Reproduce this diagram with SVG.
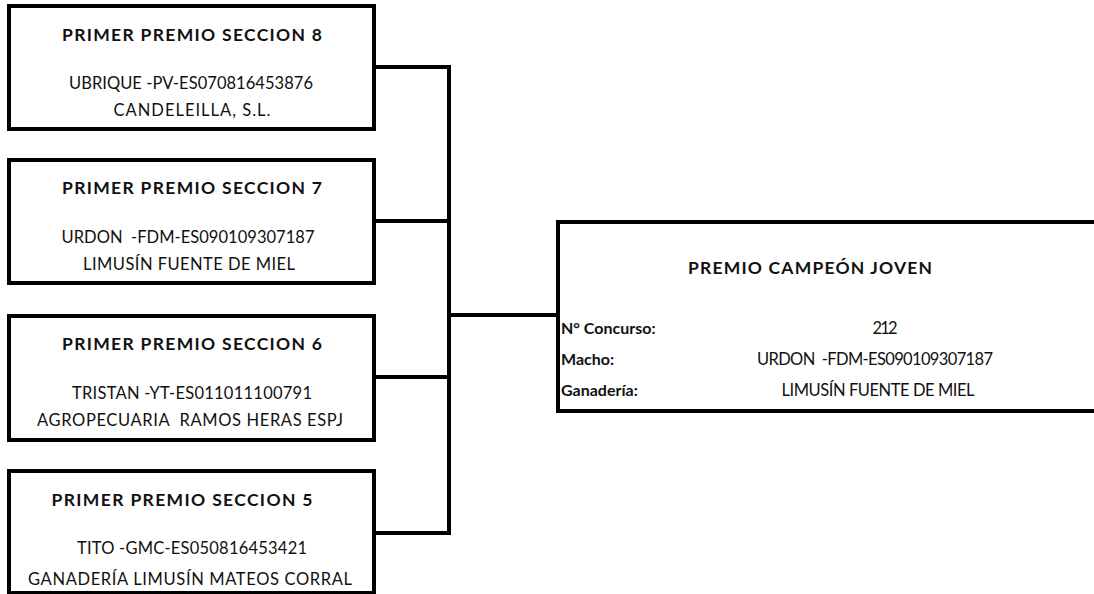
<svg xmlns="http://www.w3.org/2000/svg" width="1094" height="594" viewBox="0 0 1094 594">
<style>
.box{fill:#fff;stroke:#000;stroke-width:4}
.ln{fill:none;stroke:#000;stroke-width:4}
.t{font-family:Lato,"Open Sans",sans-serif;font-size:16.5px;fill:#111;text-anchor:middle;white-space:pre}
.b{font-weight:bold;font-size:17.5px}
.s{font-size:16px}
.l{text-anchor:start}
</style>
<g id="connectors">
<path class="ln" d="M374 67 H449 M374 221 H449 M374 377 H449 M374 533 H449 M449 65 V535 M449 315 H558"/>
</g>
<g id="n8">
<rect class="box" x="9" y="6" width="365" height="123"/>
<text class="t b" x="192" y="41" textLength="260">PRIMER PREMIO SECCION 8</text>
<text class="t" x="191" y="89" textLength="244">UBRIQUE -PV-ES070816453876</text>
<text class="t" x="192" y="116" textLength="157">CANDELEILLA, S.L.</text>
</g>
<g id="n7">
<rect class="box" x="9" y="160" width="365" height="123"/>
<text class="t b" x="192" y="194" textLength="260">PRIMER PREMIO SECCION 7</text>
<text class="t" x="188" y="243" textLength="253">URDON  -FDM-ES090109307187</text>
<text class="t" x="189" y="270" textLength="212">LIMUSÍN FUENTE DE MIEL</text>
</g>
<g id="n6">
<rect class="box" x="9" y="316" width="365" height="124"/>
<text class="t b" x="192" y="350" textLength="260">PRIMER PREMIO SECCION 6</text>
<text class="t" x="192" y="399" textLength="240">TRISTAN -YT-ES011011100791</text>
<text class="t" x="190" y="426" textLength="306">AGROPECUARIA  RAMOS HERAS ESPJ</text>
</g>
<g id="n5">
<rect class="box" x="9" y="471" width="365" height="122"/>
<text class="t b" x="182" y="506" textLength="261">PRIMER PREMIO SECCION 5</text>
<text class="t" x="192" y="554" textLength="230">TITO -GMC-ES050816453421</text>
<text class="t" x="190" y="585" textLength="324">GANADERÍA LIMUSÍN MATEOS CORRAL</text>
</g>
<g id="champion">
<rect class="box" x="558" y="222" width="560" height="189"/>
<text class="t b" x="810" y="274" textLength="244">PREMIO CAMPEÓN JOVEN</text>
<text class="t b l s" x="561" y="334">N° Concurso:</text>
<text class="t b l s" x="561" y="365">Macho:</text>
<text class="t b l s" x="561" y="396">Ganadería:</text>
<text class="t" x="885" y="334" textLength="25">212</text>
<text class="t" x="875" y="365" textLength="236">URDON  -FDM-ES090109307187</text>
<text class="t" x="878" y="396" textLength="193">LIMUSÍN FUENTE DE MIEL</text>
</g>
</svg>
